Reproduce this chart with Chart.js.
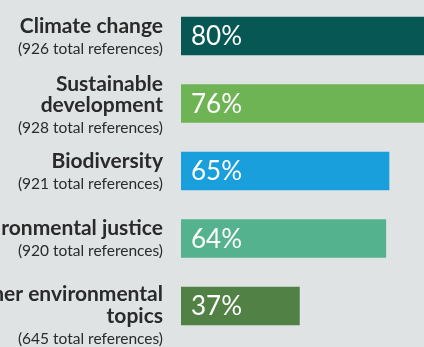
<!DOCTYPE html>
<html>
  <head>
    <meta charset="UTF-8" />
    <title>Topics referenced</title>
    <style>
      * {
        margin: 0;
        padding: 0;
        box-sizing: border-box;
      }

      html,
      body {
        width: 424px;
        height: 347px;
        overflow: hidden;
        background-color: #dfe3e4;
      }

      #topicChart {
        position: absolute;
        left: 0;
        top: 0;
      }
    </style>
  </head>
  <body>
    <canvas id="topicChart" width="501" height="347"></canvas>

    <script src="https://cdn.jsdelivr.net/npm/chart.js"></script>
    <script>
      // topic names, one entry per line of the bold label
      const topics = [
        ["Climate change"],
        ["Sustainable", "development"],
        ["Biodiversity"],
        ["Environmental justice"],
        ["Other environmental", "topics"],
      ];
      const totalRefs = [926, 928, 921, 920, 645];
      const shares = [80, 76, 65, 64, 37];

      const barColors = ["#075755", "#6eb455", "#199fdb", "#54b38e", "#518145"];

      // small vertical nudges for the left-hand labels (px)
      const labelNudge = [0.5, 2, 0.5, 0.5, 10];

      const sideLabels = {
        id: "sideLabels",
        afterDatasetsDraw(chart) {
          const { ctx, chartArea } = chart;
          const meta = chart.getDatasetMeta(0);
          const lineGap = 21.5;

          ctx.save();
          ctx.textBaseline = "alphabetic";

          meta.data.forEach((bar, i) => {
            const lines = topics[i];
            const count = lines.length + 1;
            let y = bar.y - 4 - ((count - 2) * lineGap) / 2 + labelNudge[i];
            const x = chartArea.left - 18;

            ctx.textAlign = "right";
            ctx.fillStyle = "#2a2a2a";
            ctx.font = "bold 21px Lato";
            lines.forEach((t) => {
              ctx.fillText(t, x, y);
              y += lineGap;
            });
            ctx.font = "15.5px Lato";
            ctx.fillText("(" + totalRefs[i] + " total references)", x, y - 0.5);

            // value inside the bar
            ctx.textAlign = "left";
            ctx.textBaseline = "middle";
            ctx.fillStyle = "#ffffff";
            ctx.font = "26px Lato";
            ctx.fillText(shares[i] + "%", bar.base + 10, bar.y + 1);
            ctx.textBaseline = "alphabetic";
          });
          ctx.restore();
        },
      };

      const ctx = document.getElementById("topicChart").getContext("2d");
      new Chart(ctx, {
        type: "bar",
        data: {
          labels: topics.map((t) => t.join(" ")),
          datasets: [
            {
              data: shares,
              backgroundColor: barColors,
              barThickness: 38,
              borderWidth: 0,
            },
          ],
        },
        options: {
          indexAxis: "y",
          responsive: false,
          animation: false,
          maintainAspectRatio: false,
          layout: {
            padding: { left: 181, right: 0, top: 2.25, bottom: 7.25 },
          },
          plugins: {
            legend: { display: false },
            tooltip: { enabled: false },
          },
          scales: {
            x: { display: false, min: 0, max: 100 },
            y: { display: false },
          },
        },
        plugins: [sideLabels],
      });
    </script>
  </body>
</html>
